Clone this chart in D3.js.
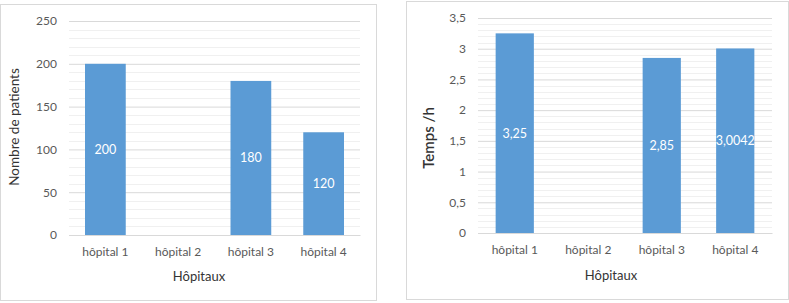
<!DOCTYPE html>
<html>
<head>
<meta charset="utf-8">
<script src="https://cdn.jsdelivr.net/npm/d3@7"></script>
<style>
  html, body { margin: 0; padding: 0; background: #fff; }
  svg { display: block; }
  text { font-family: Lato, "Open Sans", sans-serif; }
</style>
</head>
<body>
<svg id="chart" width="789" height="303"></svg>
<script>
// ---- Data ----
const categories = ["hôpital 1", "hôpital 2", "hôpital 3", "hôpital 4"];
const patients = [200, null, 180, 120];
const patientLabels = ["200", "", "180", "120"];
const patientTicks = [0, 50, 100, 150, 200, 250];
const temps = [3.25, null, 2.85, 3.0042];
const tempsLabels = ["3,25", "", "2,85", "3,0042"];
const tempsTicks = [0, 0.5, 1, 1.5, 2, 2.5, 3, 3.5];
const tempsTickLabels = ["0", "0,5", "1", "1,5", "2", "2,5", "3", "3,5"];

const svg = d3.select("#chart");
const barColor = "#5B9BD5";

function drawPanel(cfg) {
  const g = svg.append("g");
  // panel border
  g.append("rect")
    .attr("x", cfg.box[0] + 0.5).attr("y", cfg.box[1] + 0.5)
    .attr("width", cfg.box[2] - cfg.box[0]).attr("height", cfg.box[3] - cfg.box[1])
    .attr("fill", "#fff").attr("stroke", "#D9D9D9").attr("stroke-width", 1);

  const x = d3.scaleBand().domain(cfg.categories).range([cfg.plot.left, cfg.plot.right])
    .paddingInner(cfg.pad).paddingOuter(cfg.pad / 2);
  const y = d3.scaleLinear().domain([0, cfg.max]).range([cfg.plot.bottom, cfg.plot.top]);

  // minor gridlines
  const minors = d3.range(0, cfg.max + 1e-9, cfg.minorStep)
    .filter(v => !cfg.ticks.some(t => Math.abs(t - v) < 1e-9));
  g.append("g").selectAll("line").data(minors).join("line")
    .attr("x1", cfg.plot.left).attr("x2", cfg.plot.right)
    .attr("y1", d => Math.round(y(d)) + 0.5).attr("y2", d => Math.round(y(d)) + 0.5)
    .attr("stroke", "#F0F0F0").attr("stroke-width", 1);

  // major gridlines via axis
  const yAxis = d3.axisLeft(y).tickValues(cfg.ticks)
    .tickSize(-(cfg.plot.right - cfg.plot.left)).tickPadding(12)
    .tickFormat((d, i) => cfg.tickLabels[i]);
  const ya = g.append("g").attr("transform", `translate(${cfg.plot.left},0)`).call(yAxis);
  ya.select(".domain").remove();
  ya.selectAll(".tick line").attr("stroke", "#D9D9D9");
  ya.selectAll(".tick text").attr("fill", "#595959").style("font-size", "12px");

  // bars
  const data = cfg.categories.map((c, i) => ({ c, v: cfg.values[i], l: cfg.labels[i] }))
    .filter(d => d.v != null);
  const bw = x.bandwidth();
  g.append("g").selectAll("rect").data(data).join("rect")
    .attr("x", d => x(d.c)).attr("width", bw)
    .attr("y", d => y(d.v)).attr("height", d => y(0) - y(d.v))
    .attr("fill", barColor);

  // x axis line
  const xAxis = d3.axisBottom(x).tickSize(0).tickPadding(12);
  const xa = g.append("g").attr("transform", `translate(0,${cfg.plot.bottom})`).call(xAxis);
  xa.select(".domain").attr("stroke", "#D9D9D9");
  xa.selectAll(".tick text").attr("fill", "#595959").style("font-size", "12px");

  // data labels
  g.append("g").selectAll("text").data(data).join("text")
    .attr("x", d => x(d.c) + bw / 2)
    .attr("y", d => y(d.v / 2))
    .attr("dy", "0.35em")
    .attr("text-anchor", "middle")
    .attr("fill", "#fff")
    .style("font-size", "12.5px")
    .text(d => d.l);

  // axis titles
  g.append("text")
    .attr("x", cfg.xTitle[0]).attr("y", cfg.xTitle[1])
    .attr("text-anchor", "middle").attr("fill", "#333")
    .style("font-size", "13px").text("Hôpitaux");
  g.append("text")
    .attr("transform", `translate(${cfg.yTitle[0]},${cfg.yTitle[1]}) rotate(-90)`)
    .attr("text-anchor", "middle").attr("fill", "#333")
    .style("font-size", cfg.yTitleSize).style("font-weight", cfg.yTitleWeight)
    .text(cfg.yTitleText);
}

drawPanel({
  box: [0, 4, 376, 300],
  plot: { left: 69, right: 360, top: 21, bottom: 235 },
  categories, values: patients, labels: patientLabels,
  max: 250, ticks: patientTicks, tickLabels: patientTicks.map(String), minorStep: 10,
  pad: 0.44,
  xTitle: [199, 281], yTitle: [19, 127], yTitleText: "Nombre de patients",
  yTitleSize: "13.5px", yTitleWeight: 400
});

drawPanel({
  box: [406, 1, 788, 299],
  plot: { left: 478, right: 772, top: 18, bottom: 233 },
  categories, values: temps, labels: tempsLabels,
  max: 3.5, ticks: tempsTicks, tickLabels: tempsTickLabels, minorStep: 0.1,
  pad: 0.48,
  xTitle: [611, 280], yTitle: [434, 138], yTitleText: "Temps /h",
  yTitleSize: "15px", yTitleWeight: 600
});
</script>
</body>
</html>
